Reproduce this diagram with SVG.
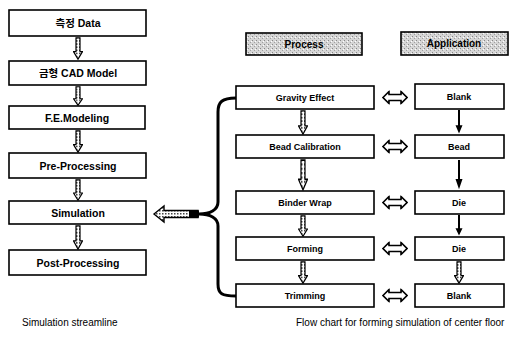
<svg xmlns="http://www.w3.org/2000/svg" width="515" height="354" viewBox="0 0 515 354">
<style>
.box{fill:#fff;stroke:#000;stroke-width:1.6}
.hdr{stroke:#000;stroke-width:1.6;fill:url(#stipple)}
.t{font-family:"Liberation Sans","Noto Sans CJK KR",sans-serif;font-weight:bold;fill:#000;text-anchor:middle;dominant-baseline:central}
.tl{font-size:10.5px}
.tr{font-size:9px}
.cap{font-family:"Liberation Sans",sans-serif;font-size:10px;fill:#000}
.brace{fill:none;stroke:#000;stroke-width:3}
</style>
<defs>
<pattern id="dots" width="3" height="3" patternUnits="userSpaceOnUse">
<rect width="3" height="3" fill="#fff"/><rect width="1.5" height="1.5" fill="#444"/>
</pattern>
<pattern id="stipple" width="4" height="4" patternUnits="userSpaceOnUse">
<rect width="4" height="4" fill="#d6d6d6"/><rect x="0" y="0" width="1" height="1" fill="#888"/><rect x="2" y="2" width="1" height="1" fill="#a0a0a0"/><rect x="3" y="1" width="1" height="1" fill="#fff"/>
</pattern>
<symbol id="harrow" viewBox="0 0 10 22" preserveAspectRatio="none">
<path d="M3,0.8 H7 V14 H9.5 L5,21.2 L0.5,14 H3 Z" fill="url(#dots)" stroke="#000" stroke-width="1.2"/>
</symbol>
<symbol id="sarrow" viewBox="0 0 10 22" preserveAspectRatio="none">
<path d="M4,0 H6 V14 H8.5 L5,21.5 L1.5,14 H4 Z" fill="#000"/>
</symbol>
<symbol id="darrow" viewBox="0 0 26 14">
<path d="M1,7 L7,1 V4 H19 V1 L25,7 L19,13 V10 H7 V13 Z" fill="#fff" stroke="#000" stroke-width="1.6"/>
</symbol>
</defs>

<rect width="515" height="354" fill="#fff"/>

<!-- Left column -->
<g id="n-data"><rect class="box" x="9" y="10" width="137" height="26"/><text class="t tl" x="78" y="23">측정 Data</text></g>
<g id="n-cad"><rect class="box" x="9" y="61" width="137" height="24"/><text class="t tl" x="78" y="73">금형 CAD Model</text></g>
<g id="n-fem"><rect class="box" x="9" y="106" width="136" height="23"/><text class="t tl" x="77" y="117.5">F.E.Modeling</text></g>
<g id="n-pre"><rect class="box" x="9" y="153" width="137" height="25"/><text class="t tl" x="78" y="165.5">Pre-Processing</text></g>
<g id="n-sim"><rect class="box" x="9" y="201" width="137" height="23"/><text class="t tl" x="78" y="212.5">Simulation</text></g>
<g id="n-post"><rect class="box" x="9" y="250" width="137" height="25"/><text class="t tl" x="78" y="262.5">Post-Processing</text></g>

<!-- Headers -->
<g id="h-process"><rect class="hdr" x="246" y="33" width="116" height="22"/><text class="t" style="font-size:10px" x="304" y="44">Process</text></g>
<g id="h-app"><rect class="hdr" x="401" y="32" width="107" height="23"/><text class="t" style="font-size:10px" x="454" y="43.5">Application</text></g>

<!-- Process column -->
<g id="p-gravity"><rect class="box" x="236" y="86" width="138" height="23"/><text class="t tr" x="305" y="97.5">Gravity Effect</text></g>
<g id="p-bead"><rect class="box" x="236" y="135" width="138" height="23"/><text class="t tr" x="305" y="146.5">Bead Calibration</text></g>
<g id="p-binder"><rect class="box" x="236" y="191" width="138" height="23"/><text class="t tr" x="305" y="202.5">Binder Wrap</text></g>
<g id="p-forming"><rect class="box" x="236" y="237" width="138" height="23"/><text class="t tr" x="305" y="248.5">Forming</text></g>
<g id="p-trim"><rect class="box" x="236" y="284" width="138" height="23"/><text class="t tr" x="305" y="295.5">Trimming</text></g>

<!-- Application column -->
<g id="a-blank1"><rect class="box" x="415" y="84" width="89" height="25"/><text class="t tr" x="459" y="96.5">Blank</text></g>
<g id="a-bead"><rect class="box" x="415" y="135" width="89" height="23"/><text class="t tr" x="459" y="146.5">Bead</text></g>
<g id="a-die1"><rect class="box" x="415" y="191" width="89" height="23"/><text class="t tr" x="459" y="202.5">Die</text></g>
<g id="a-die2"><rect class="box" x="415" y="237" width="89" height="23"/><text class="t tr" x="459" y="248.5">Die</text></g>
<g id="a-blank2"><rect class="box" x="415" y="284" width="89" height="23"/><text class="t tr" x="459" y="295.5">Blank</text></g>

<!-- Connectors -->
<g id="connectors">
<use href="#harrow" x="73" y="37" width="10" height="23"/>
<use href="#harrow" x="73" y="86" width="10" height="20"/>
<use href="#harrow" x="73" y="130" width="10" height="23"/>
<use href="#harrow" x="73" y="179" width="10" height="22"/>
<use href="#harrow" x="73" y="225" width="10" height="25"/>

<use href="#harrow" x="298" y="110" width="10" height="25"/>
<use href="#harrow" x="298" y="159" width="10" height="32"/>
<use href="#harrow" x="298" y="215" width="10" height="22"/>
<use href="#harrow" x="298" y="261" width="10" height="23"/>

<use href="#sarrow" x="454" y="110" width="10" height="24"/>
<use href="#sarrow" x="454" y="160" width="10" height="30"/>
<use href="#sarrow" x="454" y="215" width="10" height="21"/>
<use href="#harrow" x="454" y="261" width="10" height="23"/>

<use href="#darrow" x="382" y="90.5" width="26" height="14"/>
<use href="#darrow" x="382" y="139.5" width="26" height="14"/>
<use href="#darrow" x="382" y="195.5" width="26" height="14"/>
<use href="#darrow" x="382" y="241.5" width="26" height="14"/>
<use href="#darrow" x="382" y="288.5" width="26" height="14"/>

<path class="brace" d="M236,98 C222,98 218,102 218,112 L218,202 C218,210 210,214 199,214 C210,214 218,218 218,226 L218,284 C218,294 222,296 236,296"/>
<path d="M154,214 L164,206 V210.5 H198 V217.5 H164 V222 Z" fill="url(#dots)" stroke="#000" stroke-width="1.4"/>
<rect x="189" y="210.5" width="10" height="7" fill="#000"/>
</g>

<!-- Captions -->
<text class="cap" x="22" y="326">Simulation streamline</text>
<text class="cap" x="296" y="326">Flow chart for forming simulation of center floor</text>
</svg>
